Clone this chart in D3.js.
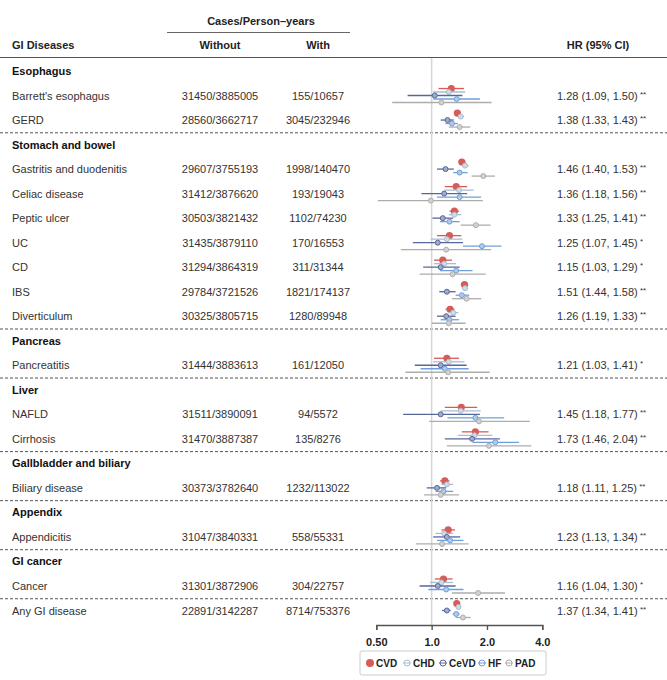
<!DOCTYPE html>
<html>
<head>
<meta charset="utf-8">
<script src="https://cdn.jsdelivr.net/npm/d3@7"></script>
<style>
  body { margin: 0; background: #fff; }
  text { font-family: "Liberation Sans", Arial, sans-serif; fill: #222; }
</style>
</head>
<body>
<script>

// group headers and the diseases under them
var groups = ["Esophagus", "Stomach and bowel", "Pancreas", "Liver",
              "Gallbladder and biliary", "Appendix", "GI cancer"]

var diseases = ["Barrett's esophagus", "GERD", "Gastritis and duodenitis", "Celiac disease",
                "Peptic ulcer", "UC", "CD", "IBS", "Diverticulum", "Pancreatitis",
                "NAFLD", "Cirrhosis", "Biliary disease", "Appendicitis", "Cancer", "Any GI disease"]

// index into groups, -1 = no group
var diseaseGroup = [0, 0, 1, 1, 1, 1, 1, 1, 1, 2, 3, 3, 4, 5, 6, -1]

var casesWithout = ["31450/3885005", "28560/3662717", "29607/3755193", "31412/3876620",
                    "30503/3821432", "31435/3879110", "31294/3864319", "29784/3721526",
                    "30325/3805715", "31444/3883613", "31511/3890091", "31470/3887387",
                    "30373/3782640", "31047/3840331", "31301/3872906", "22891/3142287"]

var casesWith = ["155/10657", "3045/232946", "1998/140470", "193/19043", "1102/74230",
                 "170/16553", "311/31344", "1821/174137", "1280/89948", "161/12050",
                 "94/5572", "135/8276", "1232/113022", "558/55331", "304/22757", "8714/753376"]

var hrText = ["1.28 (1.09, 1.50)", "1.38 (1.33, 1.43)", "1.46 (1.40, 1.53)", "1.36 (1.18, 1.56)",
              "1.33 (1.25, 1.41)", "1.25 (1.07, 1.45)", "1.15 (1.03, 1.29)", "1.51 (1.44, 1.58)",
              "1.26 (1.19, 1.33)", "1.21 (1.03, 1.41)", "1.45 (1.18, 1.77)", "1.73 (1.46, 2.04)",
              "1.18 (1.11, 1.25)", "1.23 (1.13, 1.34)", "1.16 (1.04, 1.30)", "1.37 (1.34, 1.41)"]

var hrStars = ["**", "**", "**", "**", "**", "*", "*", "**", "**", "*", "**", "**", "**", "**", "*", "**"]

// [HR, lower, upper] per disease
var cvd = [[1.28,1.09,1.50],[1.38,1.33,1.43],[1.46,1.40,1.53],[1.36,1.18,1.56],[1.33,1.25,1.41],
           [1.25,1.07,1.45],[1.15,1.03,1.29],[1.51,1.44,1.58],[1.26,1.19,1.33],[1.21,1.03,1.41],
           [1.45,1.18,1.77],[1.73,1.46,2.04],[1.18,1.11,1.25],[1.23,1.13,1.34],[1.16,1.04,1.30],
           [1.37,1.34,1.41]]
var chd = [[1.24,1.02,1.52],[1.44,1.39,1.50],[1.52,1.47,1.59],[1.41,1.17,1.69],[1.33,1.24,1.45],
           [1.21,0.99,1.47],[1.17,1.03,1.36],[1.52,1.46,1.58],[1.31,1.23,1.40],[1.24,1.02,1.51],
           [1.44,1.12,1.85],[1.71,1.39,2.14],[1.21,1.13,1.31],[1.17,1.05,1.31],[1.13,0.98,1.31],
           [1.40,1.35,1.44]]
var cevd = [[1.04,0.74,1.47],[1.22,1.12,1.32],[1.19,1.07,1.32],[1.17,0.88,1.56],[1.15,1.01,1.31],
            [1.08,0.79,1.48],[1.12,0.90,1.42],[1.21,1.10,1.35],[1.20,1.07,1.35],[1.12,0.81,1.55],
            [1.12,0.70,1.83],[1.66,1.18,2.35],[1.07,0.94,1.20],[1.21,1.02,1.43],[1.08,0.86,1.35],
            [1.21,1.14,1.27]]
var hf = [[1.37,1.02,1.83],[1.29,1.19,1.39],[1.42,1.31,1.57],[1.42,1.07,1.86],[1.25,1.11,1.42],
          [1.88,1.48,2.40],[1.36,1.11,1.67],[1.46,1.35,1.60],[1.25,1.12,1.41],[1.18,0.87,1.59],
          [1.73,1.22,2.48],[2.22,1.67,2.99],[1.16,1.05,1.31],[1.26,1.07,1.49],[1.20,0.96,1.49],
          [1.36,1.30,1.42]]
var pad = [[1.13,0.61,2.12],[1.42,1.24,1.62],[1.91,1.65,2.21],[0.99,0.51,1.90],[1.74,1.44,2.09],
           [1.20,0.68,2.11],[1.30,0.86,1.97],[1.55,1.29,1.86],[1.24,1.00,1.53],[1.23,0.72,2.07],
           [1.81,0.97,3.42],[2.05,1.21,3.49],[1.12,0.91,1.41],[1.14,0.82,1.59],[1.79,1.29,2.51],
           [1.48,1.35,1.63]]

var seriesNames = ["CVD", "CHD", "CeVD", "HF", "PAD"]
var seriesColors = ["#d65c57", "#a9bdd1", "#56679b", "#6e9fdb", "#adadad"]
var xTicks = [0.5, 1, 2, 4]
var xTickLabels = ["0.50", "1.0", "2.0", "4.0"]

var allSeries = [cvd, chd, cevd, hf, pad]

// build the row list: group header then its diseases
var rows = []
var lastGroup = null
diseases.forEach(function(d, i) {
    var g = diseaseGroup[i]
    if (g !== lastGroup) {
        if (g >= 0) rows.push({type: "group", label: groups[g], sep: rows.length > 0})
        else rows.push({type: "item", idx: i, label: d, sep: true})
        lastGroup = g
        if (g < 0) return
    }
    rows.push({type: "item", idx: i, label: d, sep: false})
})

var width = 667, height = 680

var svg = d3.select("body").append("svg")
    .attr("width", width)
    .attr("height", height)

var y = d3.scaleLinear().domain([0, rows.length - 1]).range([71, 610.5])
var x = d3.scaleLog().base(2).domain([0.5, 4]).range([376.3, 542.3])

// headers
svg.append("text").text("Cases/Person\u2013years")
    .attr("x", 261).attr("y", 21).attr("text-anchor", "middle")
    .attr("dominant-baseline", "central")
    .style("font-weight", "bold").style("font-size", "11px")
svg.append("line")
    .attr("x1", 167).attr("x2", 350).attr("y1", 32.5).attr("y2", 32.5)
    .attr("stroke", "#666").attr("stroke-width", 1.2)

var hdr = [["GI Diseases", 12, "start"], ["Without", 220, "middle"],
           ["With", 318, "middle"], ["HR (95% CI)", 598, "middle"]]
svg.selectAll(".hdr")
    .data(hdr)
    .enter().append("text")
        .attr("class", "hdr")
        .text(function(d) { return d[0] })
        .attr("x", function(d) { return d[1] })
        .attr("y", 45)
        .attr("text-anchor", function(d) { return d[2] })
        .attr("dominant-baseline", "central")
        .style("font-weight", "bold").style("font-size", "11px")

svg.append("line")
    .attr("x1", 0).attr("x2", 667).attr("y1", 57.5).attr("y2", 57.5)
    .attr("stroke", "#555").attr("stroke-width", 1.2)

// dashed separators
svg.selectAll(".sep")
    .data(rows.map(function(r, i) { return {r: r, i: i} }).filter(function(d) { return d.r.sep }))
    .enter().append("line")
        .attr("class", "sep")
        .attr("x1", 0).attr("x2", 667)
        .attr("y1", function(d) { return y(d.i - 0.5) + 0.5 })
        .attr("y2", function(d) { return y(d.i - 0.5) + 0.5 })
        .attr("stroke", "#555").attr("stroke-width", 1)
        .attr("stroke-dasharray", "3,2")

// reference line at HR = 1
svg.append("line")
    .attr("x1", x(1)).attr("x2", x(1)).attr("y1", 58).attr("y2", 625)
    .attr("stroke", "#d6d6d6").attr("stroke-width", 1.5)

// row labels
svg.selectAll(".lbl")
    .data(rows)
    .enter().append("text")
        .attr("class", "lbl")
        .text(function(d) { return d.label })
        .attr("x", 12)
        .attr("y", function(d, i) { return y(i) })
        .attr("dominant-baseline", "central")
        .style("font-size", "11px")
        .style("font-weight", function(d) { return d.type == "group" ? "bold" : "normal" })
        .style("fill", function(d) { return d.type == "group" ? "#111" : "#333" })

var items = rows.map(function(r, i) { return {r: r, i: i} }).filter(function(d) { return d.r.type == "item" })

svg.selectAll(".without")
    .data(items)
    .enter().append("text")
        .attr("class", "without")
        .text(function(d) { return casesWithout[d.r.idx] })
        .attr("x", 220).attr("y", function(d) { return y(d.i) })
        .attr("text-anchor", "middle").attr("dominant-baseline", "central")
        .style("font-size", "11px").style("fill", "#333")

svg.selectAll(".with")
    .data(items)
    .enter().append("text")
        .attr("class", "with")
        .text(function(d) { return casesWith[d.r.idx] })
        .attr("x", 318).attr("y", function(d) { return y(d.i) })
        .attr("text-anchor", "middle").attr("dominant-baseline", "central")
        .style("font-size", "11px").style("fill", "#333")

var hr = svg.selectAll(".hr")
    .data(items)
    .enter().append("text")
        .attr("class", "hr")
        .attr("x", 557).attr("y", function(d) { return y(d.i) })
        .attr("dominant-baseline", "central")
        .style("font-size", "11px").style("fill", "#333")
hr.append("tspan").text(function(d) { return hrText[d.r.idx] })
hr.append("tspan").text(function(d) { return " " + hrStars[d.r.idx] })
    .style("font-size", "8px").attr("dy", -2)

// CI lines and points, one group per series
var offsets = [-7, -3.5, 0, 3.5, 7]

allSeries.forEach(function(s, k) {
    var col = seriesColors[k]
    var g = svg.append("g").attr("class", "series-" + seriesNames[k])
    g.selectAll("line")
        .data(items)
        .enter().append("line")
            .attr("x1", function(d) { return x(s[d.r.idx][1]) })
            .attr("x2", function(d) { return x(s[d.r.idx][2]) })
            .attr("y1", function(d) { return y(d.i) + offsets[k] })
            .attr("y2", function(d) { return y(d.i) + offsets[k] })
            .attr("stroke", col).attr("stroke-width", 1.3)
    g.selectAll("circle")
        .data(items)
        .enter().append("circle")
            .attr("cx", function(d) { return x(s[d.r.idx][0]) })
            .attr("cy", function(d) { return y(d.i) + offsets[k] })
            .attr("r", k == 0 ? 3.6 : 2.5)
            .attr("fill", k == 0 ? col : d3.interpolateRgb(col, "#fff")(0.45))
            .attr("stroke", col).attr("stroke-width", k == 0 ? 0 : 1)
})

// axis
var axis = svg.append("g")
    .attr("transform", "translate(0,625)")
    .call(d3.axisBottom(x).tickValues(xTicks)
        .tickFormat(function(d, i) { return xTickLabels[i] })
        .tickSize(5).tickPadding(8))
axis.select(".domain").attr("stroke", "#555").attr("stroke-width", 1.4)
axis.selectAll(".tick line").attr("stroke", "#555").attr("stroke-width", 1.4)
axis.selectAll(".tick text")
    .style("font-size", "11px").style("font-weight", "bold")
    .style("font-family", "'Liberation Sans', Arial, sans-serif").style("fill", "#222")

// legend
svg.append("rect")
    .attr("x", 360).attr("y", 651).attr("width", 186).attr("height", 24)
    .attr("fill", "#fff").attr("stroke", "#ccc").attr("rx", 2)

var legX = [370, 407, 443, 482, 509]
var leg = svg.selectAll(".leg")
    .data(seriesNames)
    .enter().append("g")
        .attr("class", "leg")
        .attr("transform", function(d, i) { return "translate(" + legX[i] + ",663)" })
leg.append("line")
    .attr("x1", -4).attr("x2", 4)
    .attr("stroke", function(d, i) { return i == 0 ? "none" : seriesColors[i] })
    .attr("stroke-width", 1)
leg.append("circle")
    .attr("r", function(d, i) { return i == 0 ? 4 : 3 })
    .attr("fill", function(d, i) { return i == 0 ? seriesColors[i] : "none" })
    .attr("stroke", function(d, i) { return seriesColors[i] })
    .attr("stroke-width", function(d, i) { return i == 0 ? 0 : 1 })
leg.append("text")
    .text(function(d) { return d })
    .attr("x", 6).attr("dominant-baseline", "central")
    .style("font-size", "10px").style("font-weight", "bold")

</script>
</body>
</html>
